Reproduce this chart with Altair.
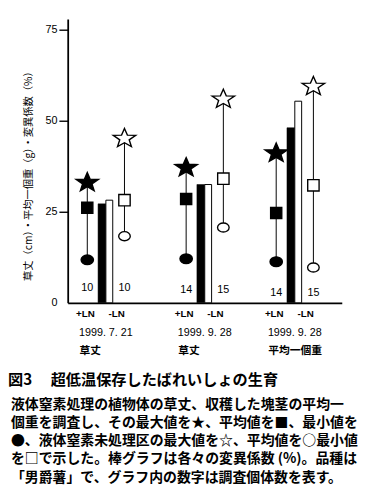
import math
import altair as alt
import pandas as pd

# ---------------- data ----------------
dates = ["1999. 7. 21", "1999. 9. 28", "1999. 9. 28"]
names = ["草丈", "草丈", "平均一個重"]
plus_max = [33.3, 37.4, 41.4]     # +LN max (filled star)
plus_mean = [26.1, 28.5, 24.7]    # +LN mean (filled square)
plus_min = [11.8, 12.1, 11.3]     # +LN min (filled circle)
minus_max = [45.4, 56.2, 59.7]    # -LN max (open star)
minus_sq = [28.2, 34.1, 32.3]     # -LN open square
minus_circ = [18.3, 20.7, 9.7]    # -LN open circle
cv_plus = [27.2, 32.5, 48.1]      # CV bar +LN (black)
cv_minus = [28.2, 32.5, 55.4]     # CV bar -LN (white)
n_plus = [10, 14, 14]
n_minus = [10, 15, 15]
y_ticks = [0, 25, 50, 75]

y_title = "草丈（cm）・平均一個重（g）・変異係数（%）"
cap_title = "図3　 超低温保存したばれいしょの生育"
cap_lines = [
    "　液体窒素処理の植物体の草丈、収穫した塊茎の平均一",
    "個重を調査し、その最大値を★、平均値を■、最小値を",
    "●、液体窒素未処理区の最大値を☆、平均値を○最小値",
    "を□で示した。棒グラフは各々の変異係数 (%)。品種は",
    "「男爵薯」で、グラフ内の数字は調査個体数を表す。",
]

# ---------------- layout ----------------
group_center = [3.9, 14.0, 23.2]
LN_OFF = 1.9
BW_BLACK, BW_WHITE = 0.8, 0.7
n_label_y = [4.0, 3.5, 2.7]

CJK = "Noto Sans CJK JP"
LAT = "Liberation Sans"

# star path (unit box), slightly flattened
pts = []
for k in range(10):
    a = -math.pi / 2 + k * math.pi / 5
    r = 1.0 if k % 2 == 0 else 0.42
    pts.append((r * math.cos(a), r * math.sin(a) * 0.85 + 0.08))
STAR = "M" + "L".join(f"{x:.3f},{y:.3f}" for x, y in pts) + "Z"
ELLIPSE = "M-1,0A1,0.78,0,1,0,1,0A1,0.78,0,1,0,-1,0Z"

xs = alt.Scale(domain=[0, 28])
ys = alt.Scale(domain=[0, 78])
x_axis = alt.Axis(domain=True, ticks=False, labels=False, grid=False, title=None,
                  domainColor="black", domainWidth=1.8)
y_axis = alt.Axis(values=y_ticks, grid=False, title=None, domainColor="black",
                  domainWidth=1.8, tickColor="black", tickWidth=1.4, tickSize=9,
                  tickOpacity=alt.condition("datum.value === 0", alt.value(0), alt.value(1)),
                  labelFont=LAT, labelFontSize=11, labelColor="black", labelPadding=2)


def X(f):
    return alt.X(f, type="quantitative", scale=xs, axis=x_axis)


def Y(f):
    return alt.Y(f, type="quantitative", scale=ys, axis=y_axis)


# ---------------- tables ----------------
bars = pd.DataFrame({
    "x0": [c - BW_BLACK for c in group_center] + group_center,
    "x1": group_center + [c + BW_WHITE for c in group_center],
    "v": cv_plus + cv_minus,
    "kind": ["p"] * 3 + ["m"] * 3,
})

marker_rows = []
rule_rows = []
for g in range(3):
    xp = group_center[g] - LN_OFF
    xm = group_center[g] + LN_OFF
    marker_rows += [
        (xp, plus_max[g], "pmax"), (xp, plus_mean[g], "pmean"), (xp, plus_min[g], "pmin"),
        (xm, minus_max[g], "mmax"), (xm, minus_sq[g], "msq"), (xm, minus_circ[g], "mcirc"),
    ]
    rule_rows += [(xp, plus_max[g], plus_min[g]), (xm, minus_max[g], min(minus_sq[g], minus_circ[g]))]
markers = pd.DataFrame(marker_rows, columns=["x", "v", "kind"])
rules = pd.DataFrame(rule_rows, columns=["x", "hi", "lo"])

nlab = pd.DataFrame({
    "x": [c - LN_OFF for c in group_center] + [c + LN_OFF for c in group_center],
    "y": n_label_y + n_label_y,
    "t": [str(v) for v in n_plus + n_minus],
})
lnlab = pd.DataFrame({
    "x": [c - LN_OFF - 0.2 for c in group_center] + [c + LN_OFF - 0.8 for c in group_center],
    "t": ["+LN"] * 3 + ["-LN"] * 3,
})
datelab = pd.DataFrame({"x": group_center, "t": dates})
namelab = pd.DataFrame({"x": [c - 2.7 for c in group_center], "t": names})
one = pd.DataFrame({"a": [0]})

# ---------------- layers ----------------
black_bars = alt.Chart(bars).transform_filter("datum.kind == 'p'").mark_rect(
    fill="black", stroke="black", strokeWidth=0.5).encode(
    x=X("x0"), x2="x1", y=Y("v"), y2=alt.datum(0))
white_bars = alt.Chart(bars).transform_filter("datum.kind == 'm'").mark_rect(
    fill="white", stroke="black", strokeWidth=1).encode(
    x=X("x0"), x2="x1", y=Y("v"), y2=alt.datum(0))

rule_layer = alt.Chart(rules).mark_rule(color="black", strokeWidth=1).encode(
    x=X("x"), y=Y("hi"), y2="lo")

styles = {
    "pmax": (STAR, "black", 580),
    "pmean": ("square", "black", 130),
    "pmin": (ELLIPSE, "black", 160),
    "mmax": (STAR, "white", 580),
    "msq": ("square", "white", 135),
    "mcirc": (ELLIPSE, "white", 140),
}
marker_layers = []
for kind, (shape, fill, size) in styles.items():
    marker_layers.append(
        alt.Chart(markers).transform_filter(f"datum.kind == '{kind}'").mark_point(
            shape=shape, fill=fill, filled=True, stroke="black", strokeWidth=1.4,
            size=size, opacity=1).encode(x=X("x"), y=Y("v")))

n_layer = alt.Chart(nlab).mark_text(font=LAT, fontSize=11, color="black").encode(
    x=X("x"), y=Y("y"), text="t:N")
ln_layer = alt.Chart(lnlab).mark_text(font=LAT, fontSize=10, fontWeight="bold", color="black").encode(
    x=X("x"), y=alt.value(302), text="t:N")
date_layer = alt.Chart(datelab).mark_text(font=LAT, fontSize=11, color="black").encode(
    x=X("x"), y=alt.value(321), text="t:N")
name_layer = alt.Chart(namelab).mark_text(font=CJK, fontSize=11, fontWeight="bold", align="left",
                                          color="black").encode(
    x=X("x"), y=alt.value(339), text="t:N")

ytitle_layer = alt.Chart(one).mark_text(font=CJK, fontSize=10.5, angle=270, opacity=0.999,
                                        fill="#000000", baseline="middle", align="center").encode(
    x=alt.value(-39), y=alt.value(158), text=alt.value(y_title))

cap_title_layer = alt.Chart(one).mark_text(font=CJK, fontSize=15.5, fontWeight="bold", align="left",
                                           baseline="alphabetic", color="black").encode(
    x=alt.value(-61), y=alt.value(374), text=alt.value(cap_title))
cap_body_layer = alt.Chart(one).mark_text(font=CJK, fontSize=14.2, fontWeight="bold", align="left",
                                          baseline="alphabetic", lineHeight=18.7, color="black").encode(
    x=alt.value(-58), y=alt.value(398), text=alt.value(cap_lines))

chart = alt.layer(
    black_bars, white_bars, rule_layer, *marker_layers,
    n_layer, ln_layer, date_layer, name_layer, ytitle_layer, cap_title_layer, cap_body_layer,
).properties(
    width=280, height=290,
    autosize=alt.AutoSizeParams(type="none"),
    padding={"left": 61, "top": 6, "right": 37, "bottom": 183},
    background="white",
).configure_view(stroke=None)

chart.save("out.html", embed_options={"renderer": "svg", "actions": False})
